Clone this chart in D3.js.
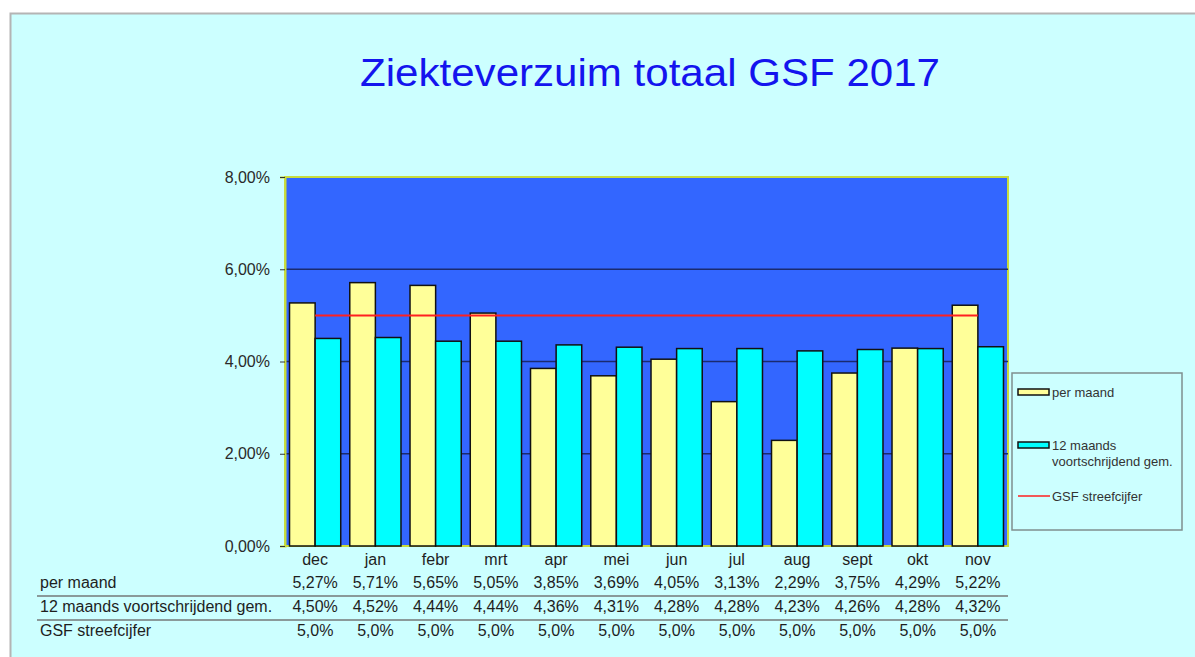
<!DOCTYPE html>
<html><head><meta charset="utf-8">
<script src="https://cdn.jsdelivr.net/npm/d3@7"></script>
<style>body{margin:0;background:#fff;font-family:"Liberation Sans",Arial,sans-serif}</style>
</head><body><svg id="c" width="1195" height="657"></svg>
<script>
const months = ["dec","jan","febr","mrt","apr","mei","jun","jul","aug","sept","okt","nov"];
const perMaand = [5.27,5.71,5.65,5.05,3.85,3.69,4.05,3.13,2.29,3.75,4.29,5.22];
const gemiddeld = [4.50,4.52,4.44,4.44,4.36,4.31,4.28,4.28,4.23,4.26,4.28,4.32];
const streef = [5.0,5.0,5.0,5.0,5.0,5.0,5.0,5.0,5.0,5.0,5.0,5.0];
const yTicks = [0,2,4,6,8];
const seriesNames = ["per maand","12 maands voortschrijdend gem.","GSF streefcijfer"];

const svg = d3.select("#c");
svg.append("rect").attr("x",10.5).attr("y",13.5).attr("width",1200).attr("height",660)
  .attr("fill","#ccffff").attr("stroke","#b4b4b4").attr("stroke-width",2);

svg.append("text").attr("x",650).attr("y",86).attr("text-anchor","middle")
  .attr("font-size",38).attr("textLength",580).attr("lengthAdjust","spacingAndGlyphs")
  .attr("fill","#1414ee").text("Ziekteverzuim totaal GSF 2017");

const L=285,R=1008,T=177,B=546;
const x = d3.scaleBand().domain(months).range([L,R]).paddingInner(0.15).paddingOuter(0.075);
const xs = d3.scaleBand().domain([0,1]).range([0,x.bandwidth()]);
const y = d3.scaleLinear().domain([0,8]).range([B,T]);

svg.append("rect").attr("x",L).attr("y",T).attr("width",R-L).attr("height",B-T)
  .attr("fill","#3366ff").attr("stroke","#c8dc3c").attr("stroke-width",2);

svg.append("g").selectAll("line").data(yTicks.filter(d=>d>0&&d<8)).join("line")
  .attr("x1",L).attr("x2",R).attr("y1",d=>y(d)).attr("y2",d=>y(d))
  .attr("stroke","#1a2a70").attr("stroke-width",1.5);

const ya = svg.append("g").attr("transform",`translate(${L},0)`)
  .call(d3.axisLeft(y).tickValues(yTicks).tickSize(5).tickFormat(d=>d3.format(".2f")(d).replace(".",",")+"%"));
ya.select(".domain").attr("stroke","#c8dc3c").attr("stroke-width",2);
ya.selectAll(".tick line").attr("stroke","#333");
ya.selectAll("text").attr("font-size",16).attr("fill","#2a2a2a").attr("font-family","Liberation Sans, Arial").attr("x",-15);

const g = svg.append("g");
months.forEach((m,i)=>{
  [perMaand[i],gemiddeld[i]].forEach((v,j)=>{
    g.append("rect").attr("x",x(m)+xs(j)).attr("y",y(v)).attr("width",xs.bandwidth())
     .attr("height",y(0)-y(v)).attr("fill",j===0?"#ffff99":"#00ffff")
     .attr("stroke","#111").attr("stroke-width",1.5);
  });
});

const line = d3.line().x((d,i)=>x(months[i])+x.bandwidth()/2).y(d=>y(d));
svg.append("path").datum(streef).attr("d",line).attr("fill","none").attr("stroke","#ff2020").attr("stroke-width",2);

// month labels
svg.append("g").selectAll("text").data(months).join("text")
  .attr("x",d=>x(d)+x.bandwidth()/2).attr("y",565).attr("text-anchor","middle")
  .attr("font-size",16).attr("fill","#1e1e1e").text(d=>d);

// data table
const fmt2 = v=>d3.format(".2f")(v).replace(".",",")+"%";
const fmt1 = v=>d3.format(".1f")(v).replace(".",",")+"%";
const rows = [[seriesNames[0],perMaand,fmt2,588],[seriesNames[1],gemiddeld,fmt2,612],[seriesNames[2],streef,fmt1,636]];
rows.forEach(([name,vals,f,yy])=>{
  svg.append("text").attr("x",40).attr("y",yy).attr("font-size",16).attr("fill","#1e1e1e").text(name);
  svg.append("g").selectAll("text").data(vals).join("text")
    .attr("x",(d,i)=>x(months[i])+x.bandwidth()/2).attr("y",yy).attr("text-anchor","middle")
    .attr("font-size",16).attr("fill","#1e1e1e").text(f);
});
[596,620].forEach(yy=>svg.append("line").attr("x1",37).attr("x2",1008).attr("y1",yy).attr("y2",yy)
  .attr("stroke","#8a9a9a").attr("stroke-width",2));

// legend
const lg = svg.append("g");
lg.append("rect").attr("x",1012).attr("y",373).attr("width",170).attr("height",157)
  .attr("fill","none").attr("stroke","#7f8f8f").attr("stroke-width",1.5);
lg.append("rect").attr("x",1018).attr("y",389).attr("width",31).attr("height",6).attr("fill","#ffff99").attr("stroke","#111").attr("stroke-width",1.5);
lg.append("text").attr("x",1052).attr("y",397).attr("font-size",13).attr("fill","#333").text(seriesNames[0]);
lg.append("rect").attr("x",1018).attr("y",442).attr("width",31).attr("height",6).attr("fill","#00ffff").attr("stroke","#111").attr("stroke-width",1.5);
lg.append("text").attr("x",1052).attr("y",450).attr("font-size",13).attr("fill","#333").text("12 maands");
lg.append("text").attr("x",1052).attr("y",466).attr("font-size",13).attr("fill","#333").text("voortschrijdend gem.");
lg.append("line").attr("x1",1018).attr("x2",1050).attr("y1",496).attr("y2",496).attr("stroke","#ff2020").attr("stroke-width",1.5);
lg.append("text").attr("x",1052).attr("y",501).attr("font-size",13).attr("fill","#333").text(seriesNames[2]);
</script></body></html>
